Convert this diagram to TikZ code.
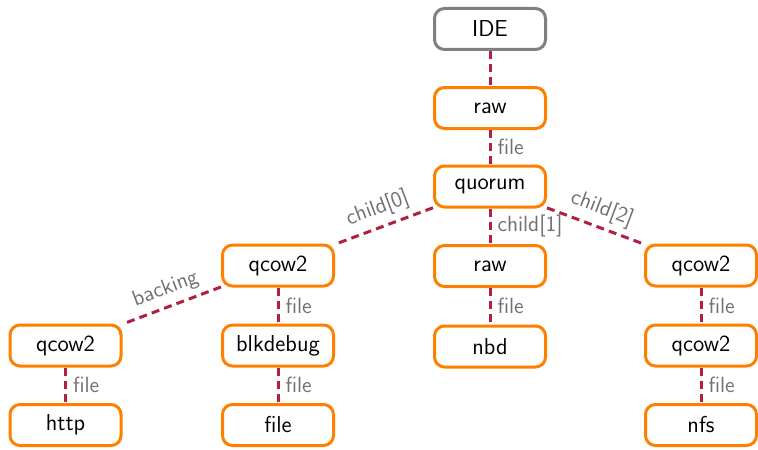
\documentclass[tikz,border=0pt]{standalone}
\usepackage{tikz}
\definecolor{boxorange}{HTML}{FF8000}
\definecolor{boxgray}{HTML}{808080}
\definecolor{edgered}{HTML}{B0203F}
\definecolor{lblgray}{HTML}{707070}
\tikzset{
  blk/.style={draw=boxorange, line width=1.5pt, rounded corners=5pt, minimum width=55.5pt, minimum height=20.5pt, inner sep=0pt, fill=white, font=\sffamily\fontsize{11.5}{13}\selectfont},
  idebox/.style={blk, draw=boxgray},
  lnk/.style={draw=edgered, line width=1.5pt, dash pattern=on 4pt off 2.6pt},
  lbl/.style={text=lblgray, font=\sffamily\fontsize{11}{13}\selectfont, inner sep=3pt},
}
\begin{document}
\begin{tikzpicture}[x=0.5pt, y=-0.5pt]
\useasboundingbox (0,0) rectangle (758,449);
\node[idebox] (ide) at (490,29) {IDE};
\node[blk] (raw1) at (490,108) {raw};
\node[blk] (quorum) at (490,186.5) {quorum};
\node[blk] (qL) at (278,265.5) {qcow2};
\node[blk] (raw2) at (490,266) {raw};
\node[blk] (qR) at (701,265.5) {qcow2};
\node[blk] (qLL) at (65.5,345.5) {qcow2};
\node[blk] (blk) at (278,345.5) {blkdebug};
\node[blk] (nbd) at (490,346.5) {nbd};
\node[blk] (qR2) at (701,345.5) {qcow2};
\node[blk] (http) at (65.5,425) {http};
\node[blk] (file) at (278,425) {file};
\node[blk] (nfs) at (701,425) {nfs};

\draw[lnk] (ide) -- (raw1);
\draw[lnk] (raw1) -- node[lbl, right] {file} (quorum);
\draw[lnk] (quorum) -- node[lbl, right] {child[1]} (raw2);
\draw[lnk] (quorum) -- node[lbl, sloped, above] {child[0]} (qL);
\draw[lnk] (quorum) -- node[lbl, sloped, above] {child[2]} (qR);
\draw[lnk] (qL) -- node[lbl, sloped, above] {backing} (qLL);
\draw[lnk] (qL) -- node[lbl, right] {file} (blk);
\draw[lnk] (blk) -- node[lbl, right] {file} (file);
\draw[lnk] (qLL) -- node[lbl, right] {file} (http);
\draw[lnk] (raw2) -- node[lbl, right] {file} (nbd);
\draw[lnk] (qR) -- node[lbl, right] {file} (qR2);
\draw[lnk] (qR2) -- node[lbl, right] {file} (nfs);
\end{tikzpicture}
\end{document}
